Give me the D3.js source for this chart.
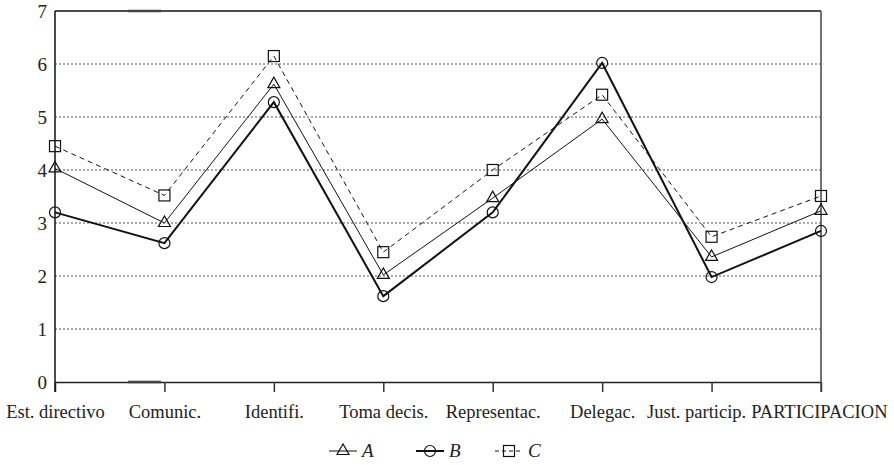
<!DOCTYPE html>
<html>
<head>
<meta charset="utf-8">
<script src="https://cdn.jsdelivr.net/npm/d3@7"></script>
<style>
  body { margin: 0; background: #fff; }
</style>
</head>
<body>
<svg id="chart" width="894" height="465"></svg>
<script>
// categories and series values
const categories = ["Est. directivo", "Comunic.", "Identifi.", "Toma decis.", "Representac.", "Delegac.", "Just. particip.", "PARTICIPACION"];
const seriesA = [4.03, 3.0, 5.62, 2.02, 3.47, 4.96, 2.36, 3.23];
const seriesB = [3.2, 2.62, 5.28, 1.62, 3.2, 6.02, 1.98, 2.85];
const seriesC = [4.45, 3.52, 6.15, 2.45, 4.0, 5.42, 2.74, 3.51];
const yTicks = [0, 1, 2, 3, 4, 5, 6, 7];

const plotLeft = 55, plotRight = 821, plotTop = 11, plotBottom = 382;
const serif = "'Liberation Serif'";

const svg = d3.select("#chart");

let x = d3.scalePoint().domain(categories).range([plotLeft, plotRight]);
let y = d3.scaleLinear().domain([0, 7]).range([plotBottom, plotTop]);

// dotted grid lines
svg.append("g")
  .selectAll("line")
  .data(yTicks.filter(d => d > 0 && d < 7))
  .join("line")
    .attr("x1", plotLeft).attr("x2", plotRight)
    .attr("y1", d => y(d)).attr("y2", d => y(d))
    .style("stroke", "#555")
    .style("stroke-width", 1)
    .style("stroke-dasharray", "2,2");

// y axis: labels only, no tick marks
let yAxis = svg.append("g")
  .attr("transform", "translate(" + plotLeft + ",0)")
  .call(d3.axisLeft(y).tickValues(yTicks).tickFormat(d3.format("d")).tickSize(0).tickPadding(8));
yAxis.attr("font-family", serif);
yAxis.select(".domain").remove();
yAxis.selectAll("text")
  .style("font-family", serif).style("font-size", "19px").style("fill", "#222");

// x axis with ticks pointing down
let xAxis = svg.append("g")
  .attr("transform", "translate(0," + plotBottom + ")")
  .call(d3.axisBottom(x).tickSize(10).tickPadding(13).tickSizeOuter(0));
xAxis.attr("font-family", serif);
xAxis.select(".domain").style("stroke", "#222").style("stroke-width", 1.5);
xAxis.selectAll(".tick line").style("stroke", "#333").style("stroke-width", 1.5);
let xLabels = xAxis.selectAll("text")
  .style("font-family", serif).style("font-size", "18.5px").style("fill", "#222");

// the last labels are pushed left so they fit in the window, like the original
let nodes = xLabels.nodes();
let lastIdx = nodes.length - 1;
let wLast = nodes[lastIdx].getComputedTextLength();
let shiftLast = Math.min(0, 887 - (x(categories[lastIdx]) + wLast / 2));
d3.select(nodes[lastIdx]).attr("dx", shiftLast);
let lastStart = x(categories[lastIdx]) + shiftLast - wLast / 2;
let wPrev = nodes[lastIdx - 1].getComputedTextLength();
let shiftPrev = Math.min(0, lastStart - 5 - (x(categories[lastIdx - 1]) + wPrev / 2));
d3.select(nodes[lastIdx - 1]).attr("dx", shiftPrev);

// frame: left, top, right
svg.append("line").attr("x1", plotLeft).attr("x2", plotLeft).attr("y1", plotTop).attr("y2", plotBottom + 10)
  .style("stroke", "#111").style("stroke-width", 1.5);
svg.append("line").attr("x1", plotLeft).attr("x2", plotRight).attr("y1", plotTop).attr("y2", plotTop)
  .style("stroke", "#111").style("stroke-width", 1.5);
svg.append("line").attr("x1", plotRight).attr("x2", plotRight).attr("y1", plotTop).attr("y2", plotBottom + 10)
  .style("stroke", "#444").style("stroke-width", 1.5);

// small darker stubs on the frame (artifact in the original)
[plotTop, plotBottom].forEach(v => {
  svg.append("line").attr("x1", 128).attr("x2", 161).attr("y1", v).attr("y2", v)
    .style("stroke", "#444").style("stroke-width", 2.5);
});

const series = [
  { name: "A", values: seriesA, width: 1, dash: null, marker: "triangle" },
  { name: "B", values: seriesB, width: 2, dash: null, marker: "circle" },
  { name: "C", values: seriesC, width: 1, dash: "5,4", marker: "square" }
];

function drawMarker(g, kind, cx, cy) {
  if (kind === "circle") {
    g.append("circle").attr("cx", cx).attr("cy", cy).attr("r", 5.5)
      .style("fill", "none").style("stroke", "#111").style("stroke-width", 1.2);
  } else if (kind === "square") {
    g.append("rect").attr("x", cx - 5.5).attr("y", cy - 5.5).attr("width", 11).attr("height", 11)
      .style("fill", "none").style("stroke", "#111").style("stroke-width", 1.2);
  } else {
    let p = [[cx, cy - 7], [cx - 6, cy + 3.5], [cx + 6, cy + 3.5]];
    g.append("path").attr("d", "M" + p.join("L") + "Z")
      .style("fill", "none").style("stroke", "#111").style("stroke-width", 1.2);
  }
}

let line = d3.line().x((d, i) => x(categories[i])).y(d => y(d));

series.forEach(s => {
  let g = svg.append("g");
  g.append("path")
    .datum(s.values)
    .attr("d", line)
    .style("fill", "none")
    .style("stroke", "#111")
    .style("stroke-width", s.width)
    .style("stroke-dasharray", s.dash);
  s.values.forEach((v, i) => drawMarker(g, s.marker, x(categories[i]), y(v)));
});

// legend
const legendX = [343, 430, 509];
const legendY = 451;
series.forEach((s, i) => {
  let g = svg.append("g");
  let cx = legendX[i];
  g.append("line").attr("x1", cx - 14).attr("x2", cx + 14).attr("y1", legendY).attr("y2", legendY)
    .style("stroke", "#111").style("stroke-width", s.width)
    .style("stroke-dasharray", s.dash ? "4,3" : null);
  drawMarker(g, s.marker, cx, legendY);
  g.append("text").attr("x", cx + 19).attr("y", legendY + 6)
    .style("font-family", serif).style("font-size", "19px").style("font-style", "italic")
    .style("fill", "#222").text(s.name);
});
</script>
</body>
</html>
